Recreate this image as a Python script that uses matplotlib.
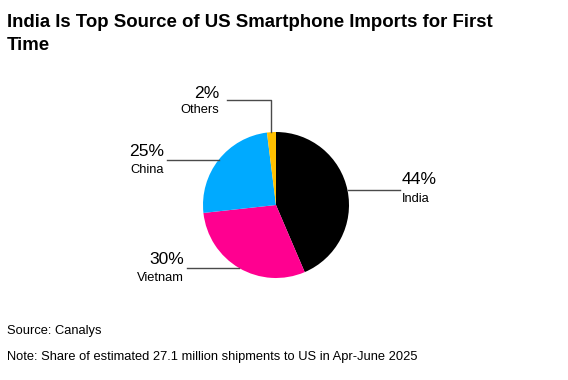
import matplotlib
matplotlib.use("Agg")
import matplotlib.pyplot as plt
import numpy as np

categories = ["India", "Vietnam", "China", "Others"]
shares = [44, 30, 25, 2]
colors = ["#000000", "#ff0090", "#00aaff", "#ffc000"]

W, H = 568, 380
fig = plt.figure(figsize=(W / 100, H / 100), dpi=100)
plt.rcParams['font.family'] = ['Liberation Sans', 'DejaVu Sans']
ax = fig.add_axes([0, 0, 1, 1])

cx, cy, r = 276, 205, 73
total = sum(shares)
wedges, _ = ax.pie(shares, colors=colors, center=(cx, cy), radius=r,
                   startangle=-90, counterclock=True, frame=True,
                   wedgeprops=dict(linewidth=0))
ax.set_xlim(0, W)
ax.set_ylim(H, 0)
ax.set_aspect("equal")
ax.axis("off")

angles = []
acc = 0
for s in shares:
    mid = (acc + s / 2) / total * 360
    acc += s
    angles.append(mid)

def anchor(mid):
    t = np.deg2rad(mid)
    return cx + r * np.sin(t), cy - r * np.cos(t)

lc = "#4a4a4a"
lw = 1.0
big = 12.6
small = 9.3

# India
x0, y0 = anchor(angles[0])
ax.plot([x0, 400], [y0, y0], color=lc, lw=lw)
ax.text(402, y0 - 3, f"{shares[0]}%", fontsize=big, ha="left", va="bottom")
ax.text(402, y0 + 3, categories[0], fontsize=small, ha="left", va="top")

# Vietnam
x1, y1 = anchor(angles[1])
ax.plot([187, x1], [y1, y1], color=lc, lw=lw)
ax.text(184, y1 - 1, f"{shares[1]}%", fontsize=big, ha="right", va="bottom")
ax.text(184, y1 + 4, categories[1], fontsize=small, ha="right", va="top")

# China
x2, y2 = anchor(angles[2])
ax.plot([167, x2], [y2, y2], color=lc, lw=lw)
ax.text(164, y2 - 1, f"{shares[2]}%", fontsize=big, ha="right", va="bottom")
ax.text(164, y2 + 4, categories[2], fontsize=small, ha="right", va="top")

# Others
x3, y3 = anchor(angles[3])
ax.plot([x3, x3, 227], [y3, 100, 100], color=lc, lw=lw)
ax.text(219, 101, f"{shares[3]}%", fontsize=big, ha="right", va="bottom")
ax.text(219, 104, categories[3], fontsize=small, ha="right", va="top")

title_lines = ["India Is Top Source of US Smartphone Imports for First", "Time"]
fig.text(7 / W, 1 - 27 / H, title_lines[0],
         fontsize=13.4, fontweight="bold", ha="left", va="baseline")
fig.text(7 / W, 1 - 50 / H, title_lines[1],
         fontsize=13.4, fontweight="bold", ha="left", va="baseline")
fig.text(7 / W, 1 - 331 / H, "Source: Canalys", fontsize=9.3, ha="left", va="center")
fig.text(7 / W, 1 - 357 / H, "Note: Share of estimated 27.1 million shipments to US in Apr-June 2025",
         fontsize=9.3, ha="left", va="center")

fig.savefig("out.png", dpi=100, facecolor="white")
